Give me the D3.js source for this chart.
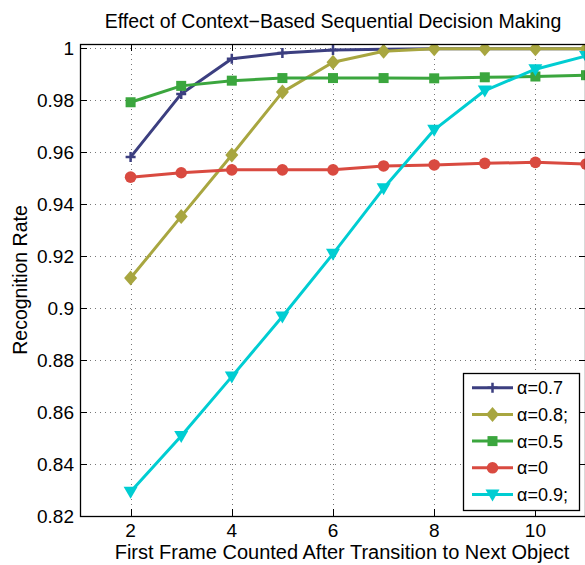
<!DOCTYPE html>
<html>
<head>
<meta charset="utf-8">
<script src="https://cdn.jsdelivr.net/npm/d3@7"></script>
<style>
body { margin: 0; background: #fff; }
text { font-family: "Liberation Sans", Arial, sans-serif; fill: #000; }
</style>
</head>
<body>
<script>
// values
var frames = [2, 3, 4, 5, 6, 7, 8, 9, 10, 11];
var a07 = [0.958, 0.9823, 0.9958, 0.998, 0.9992, 0.9995, 0.9997, 0.9997, 0.9997, 0.9997];
var a08 = [0.9115, 0.9352, 0.9588, 0.983, 0.9945, 0.9987, 0.9997, 0.9997, 0.9997, 0.9997];
var a05 = [0.9791, 0.9854, 0.9874, 0.9884, 0.9884, 0.9884, 0.9883, 0.9887, 0.989, 0.9895];
var a0 = [0.9503, 0.952, 0.9531, 0.9531, 0.9531, 0.9546, 0.955, 0.9556, 0.956, 0.9553];
var a09 = [0.8293, 0.8508, 0.8736, 0.8967, 0.9208, 0.946, 0.9685, 0.9836, 0.9918, 0.9969];
var seriesNames = ["α=0.7", "α=0.8;", "α=0.5", "α=0", "α=0.9;"];
var xTicks = [2, 4, 6, 8, 10];
var yTicks = [0.82, 0.84, 0.86, 0.88, 0.9, 0.92, 0.94, 0.96, 0.98, 1];

var series = [
    {name: seriesNames[0], values: a07, color: "#3c3f80", marker: "plus"},
    {name: seriesNames[1], values: a08, color: "#a8a640", marker: "diamond"},
    {name: seriesNames[2], values: a05, color: "#3ba63e", marker: "square"},
    {name: seriesNames[3], values: a0, color: "#d94a40", marker: "circle"},
    {name: seriesNames[4], values: a09, color: "#00cdd2", marker: "tri"}
];

var W = 585, H = 565;
var pLeft = 80, pRight = 586, pTop = 44, pBottom = 516;

var x = d3.scaleLinear().domain([1, 11]).range([pLeft, pRight]);
var y = d3.scaleLinear().domain([0.82, 1.0015]).range([pBottom, pTop]);

var svg = d3.select("body").append("svg")
    .attr("width", W)
    .attr("height", H);

svg.append("defs").append("clipPath").attr("id", "plotclip")
    .append("rect")
    .attr("x", pLeft).attr("y", pTop)
    .attr("width", pRight - pLeft).attr("height", pBottom - pTop);

// dotted grid
var grid = svg.append("g").attr("stroke", "#777").attr("stroke-width", 1)
    .attr("stroke-dasharray", "1,4");
grid.selectAll(".gx").data(xTicks).enter().append("line")
    .attr("x1", function(d) { return Math.round(x(d)) + 0.5; })
    .attr("x2", function(d) { return Math.round(x(d)) + 0.5; })
    .attr("y1", pTop).attr("y2", pBottom);
grid.selectAll(".gy").data(yTicks).enter().append("line")
    .attr("y1", function(d) { return Math.round(y(d)) + 0.5; })
    .attr("y2", function(d) { return Math.round(y(d)) + 0.5; })
    .attr("x1", pLeft).attr("x2", pRight);

// inward ticks on all four sides
var tl = 7;
var ticks = svg.append("g").attr("stroke", "#000").attr("stroke-width", 1);
xTicks.forEach(function(d) {
    var xx = Math.round(x(d)) + 0.5;
    ticks.append("line").attr("x1", xx).attr("x2", xx)
        .attr("y1", pBottom).attr("y2", pBottom - tl);
    ticks.append("line").attr("x1", xx).attr("x2", xx)
        .attr("y1", pTop).attr("y2", pTop + tl);
});
yTicks.forEach(function(d) {
    var yy = Math.round(y(d)) + 0.5;
    ticks.append("line").attr("x1", pLeft).attr("x2", pLeft + tl)
        .attr("y1", yy).attr("y2", yy);
    ticks.append("line").attr("x1", pRight - tl).attr("x2", pRight)
        .attr("y1", yy).attr("y2", yy);
});

// tick labels
svg.append("g").selectAll("text").data(xTicks).enter().append("text")
    .attr("x", function(d) { return x(d); })
    .attr("y", 537)
    .attr("text-anchor", "middle")
    .style("font-size", "19px")
    .text(function(d) { return d; });
svg.append("g").selectAll("text").data(yTicks).enter().append("text")
    .attr("x", 74)
    .attr("y", function(d) { return y(d) + 7; })
    .attr("text-anchor", "end")
    .style("font-size", "19px")
    .text(function(d) { return String(+d.toFixed(2)); });

// lines and markers
var line = d3.line()
    .x(function(d, i) { return x(frames[i]); })
    .y(function(d) { return y(d); });

function drawMarker(g, type, color, cx, cy) {
    if (type == "plus") {
        g.append("path")
            .attr("d", "M" + (cx - 5) + "," + cy + "H" + (cx + 5) + "M" + cx + "," + (cy - 5) + "V" + (cy + 5))
            .attr("stroke", color).attr("stroke-width", 2.5).attr("fill", "none");
    } else if (type == "diamond") {
        g.append("path")
            .attr("d", "M" + cx + "," + (cy - 7.5) + "L" + (cx + 6.5) + "," + cy + "L" + cx + "," + (cy + 7.5) + "L" + (cx - 6.5) + "," + cy + "Z")
            .attr("fill", color);
    } else if (type == "square") {
        g.append("rect").attr("x", cx - 5).attr("y", cy - 5)
            .attr("width", 10).attr("height", 10).attr("fill", color);
    } else if (type == "circle") {
        g.append("circle").attr("cx", cx).attr("cy", cy).attr("r", 5.8).attr("fill", color);
    } else if (type == "tri") {
        g.append("path")
            .attr("d", "M" + (cx - 7) + "," + (cy - 5) + "L" + (cx + 7) + "," + (cy - 5) + "L" + cx + "," + (cy + 7) + "Z")
            .attr("fill", color);
    }
}

var plot = svg.append("g").attr("clip-path", "url(#plotclip)");
series.forEach(function(s) {
    var g = plot.append("g");
    g.append("path")
        .datum(s.values)
        .attr("d", line)
        .attr("fill", "none")
        .attr("stroke", s.color)
        .attr("stroke-width", 3)
        .attr("stroke-linejoin", "round");
    s.values.forEach(function(v, i) {
        drawMarker(g, s.marker, s.color, x(frames[i]), y(v));
    });
});

// axes box
svg.append("rect")
    .attr("x", pLeft + 0.5).attr("y", pTop + 0.5)
    .attr("width", pRight - pLeft - 1).attr("height", pBottom - pTop)
    .attr("fill", "none").attr("stroke", "#000").attr("stroke-width", 1.3);

// titles
svg.append("text").text("Effect of Context−Based Sequential Decision Making")
    .attr("x", 333).attr("y", 28)
    .attr("text-anchor", "middle")
    .style("font-size", "19.5px");
svg.append("text").text("First Frame Counted After Transition to Next Object")
    .attr("x", 342).attr("y", 559)
    .attr("text-anchor", "middle")
    .style("font-size", "20px");
svg.append("text").text("Recognition Rate")
    .attr("transform", "translate(27,280) rotate(-90)")
    .attr("text-anchor", "middle")
    .style("font-size", "19.5px");

// legend
var legend = svg.append("g");
legend.append("rect")
    .attr("x", 463.5).attr("y", 373.5)
    .attr("width", 116).attr("height", 137)
    .attr("fill", "#fff").attr("stroke", "#000").attr("stroke-width", 1.3);
series.forEach(function(s, i) {
    var ly = 387.7 + i * 26.7;
    legend.append("line")
        .attr("x1", 472).attr("x2", 513)
        .attr("y1", ly).attr("y2", ly)
        .attr("stroke", s.color).attr("stroke-width", 3);
    drawMarker(legend, s.marker, s.color, 492.5, ly);
    legend.append("text")
        .attr("x", 517).attr("y", ly + 6.5)
        .style("font-size", "18px")
        .text(s.name);
});
</script>
</body>
</html>
